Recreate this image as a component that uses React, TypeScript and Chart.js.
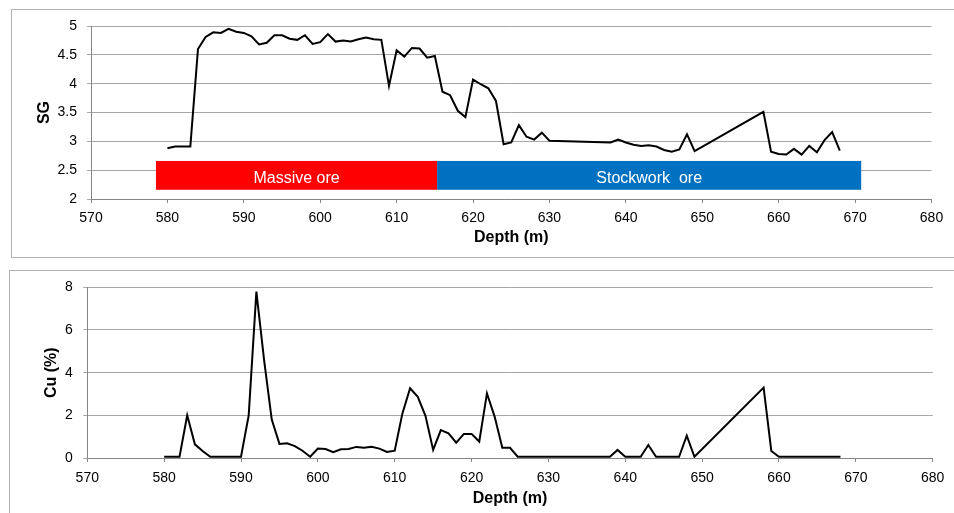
import React, { useEffect, useRef } from "react";
import { Chart, registerables } from "chart.js";

Chart.register(...registerables);

// ---- data ----
const depths = [
  580, 581, 582, 583, 584, 585, 586, 587, 588, 589,
  590, 591, 592, 593, 594, 595, 596, 597, 598, 599,
  600, 601, 602, 603, 604, 605, 606, 607, 608, 609,
  610, 611, 612, 613, 614, 615, 616, 617, 618, 619,
  620, 621, 622, 623, 624, 625, 626, 627, 628, 629,
  630, 638, 639, 640, 641, 642, 643, 644, 645, 646,
  647, 648, 649, 658, 659, 660, 661, 662, 663, 664,
  665, 666, 667, 668,
];

const sgValues = [
  2.88, 2.91, 2.91, 2.91, 4.6, 4.81, 4.89, 4.88, 4.95, 4.9,
  4.88, 4.82, 4.68, 4.71, 4.84, 4.84, 4.78, 4.76, 4.84, 4.69,
  4.72, 4.86, 4.73, 4.75, 4.73, 4.77, 4.8, 4.77, 4.76, 3.96,
  4.58, 4.47, 4.62, 4.61, 4.45, 4.48, 3.86, 3.8, 3.53, 3.42,
  4.07, 3.99, 3.92, 3.7, 2.95, 2.98, 3.28, 3.08, 3.03, 3.15,
  3.01, 2.98, 3.03, 2.98, 2.94, 2.92, 2.93, 2.91, 2.85, 2.82,
  2.86, 3.12, 2.83, 3.51, 2.82, 2.78, 2.77, 2.87, 2.77, 2.92,
  2.81, 3.02, 3.16, 2.84,
];

const cuValues = [
  0.06, 0.06, 0.06, 2.0, 0.64, 0.33, 0.06, 0.06, 0.06, 0.06,
  0.06, 2.0, 7.8, 4.6, 1.8, 0.66, 0.69, 0.56, 0.34, 0.06,
  0.44, 0.42, 0.27, 0.41, 0.42, 0.52, 0.48, 0.53, 0.44, 0.28,
  0.34, 2.09, 3.27, 2.87, 1.98, 0.38, 1.31, 1.16, 0.72, 1.13,
  1.13, 0.77, 3.03, 1.94, 0.48, 0.48, 0.06, 0.06, 0.06, 0.06,
  0.06, 0.06, 0.38, 0.06, 0.06, 0.06, 0.61, 0.06, 0.06, 0.06,
  0.06, 1.05, 0.06, 3.3, 0.33, 0.06, 0.06, 0.06, 0.06, 0.06,
  0.06, 0.06, 0.06, 0.06,
];

const oreZoneLabels = ["Massive ore", "Stockwork  ore"];
const oreZoneFrom = [578.5, 615.3];
const oreZoneTo = [615.3, 670.8];
const oreZoneColors = ["#ff0000", "#0070c0"];
const oreZoneSGRange = [2.16, 2.66];

const FONT = '"Liberation Sans", Arial, sans-serif';

const zonePlugin = {
  id: "oreZones",
  beforeDatasetsDraw(chart: any) {
    const { ctx, scales } = chart;
    const x = scales.x;
    const y = scales.y;
    ctx.save();
    oreZoneLabels.forEach((label, i) => {
      const x0 = x.getPixelForValue(oreZoneFrom[i]);
      const x1 = x.getPixelForValue(oreZoneTo[i]);
      const y0 = y.getPixelForValue(oreZoneSGRange[1]);
      const y1 = y.getPixelForValue(oreZoneSGRange[0]);
      ctx.fillStyle = oreZoneColors[i];
      ctx.fillRect(x0, y0, x1 - x0, y1 - y0);
      ctx.fillStyle = "#ffffff";
      ctx.font = `16px ${FONT}`;
      ctx.textAlign = "center";
      ctx.textBaseline = "alphabetic";
      ctx.fillText(label, (x0 + x1) / 2, (y0 + y1) / 2 + 8);
    });
    ctx.restore();
  },
};

function makeOptions(opts: {
  yMin: number;
  yMax: number;
  yStep: number;
  yTitle: string;
  yWidth: number;
  padding: { left: number; right: number; top: number; bottom: number };
  xHeight: number;
  xTickPad: number;
  yTickPad: number;
}) {
  return {
    responsive: false,
    animation: false as const,
    layout: { padding: opts.padding },
    plugins: { legend: { display: false }, tooltip: { enabled: false } },
    scales: {
      x: {
        type: "linear" as const,
        min: 570,
        max: 680,
        ticks: {
          stepSize: 10,
          padding: opts.xTickPad,
          color: "#000",
          font: { family: FONT, size: 14 },
          maxRotation: 0,
          autoSkip: false,
        },
        grid: {
          drawOnChartArea: false,
          drawTicks: true,
          tickLength: 4,
          color: "#868686",
        },
        border: { color: "#868686", width: 1 },
        title: {
          display: true,
          text: "Depth (m)",
          color: "#000",
          font: { family: FONT, size: 16, weight: "bold" as const },
          padding: 0,
        },
        afterFit: (s: any) => {
          s.height = opts.xHeight;
        },
      },
      y: {
        min: opts.yMin,
        max: opts.yMax,
        ticks: {
          stepSize: opts.yStep,
          padding: opts.yTickPad,
          color: "#000",
          font: { family: FONT, size: 14 },
          callback: (v: any) => `${v}`,
        },
        grid: { color: "#a6a6a6", tickLength: 4, lineWidth: 1 },
        border: { color: "#868686", width: 1 },
        title: {
          display: true,
          text: opts.yTitle,
          color: "#000",
          font: { family: FONT, size: 16, weight: "bold" as const },
          padding: 0,
        },
        afterFit: (s: any) => {
          s.width = opts.yWidth;
        },
      },
    },
  };
}

function lineData(values: number[]) {
  return {
    datasets: [
      {
        data: depths.map((d, i) => ({ x: d, y: values[i] })),
        borderColor: "#000",
        borderWidth: 2,
        pointRadius: 0,
        tension: 0,
        fill: false,
      },
    ],
  };
}

export default function App() {
  const topRef = useRef<HTMLCanvasElement>(null);
  const botRef = useRef<HTMLCanvasElement>(null);

  useEffect(() => {
    const top = new Chart(topRef.current!, {
      type: "line",
      data: lineData(sgValues),
      options: makeOptions({
        yMin: 2,
        yMax: 5,
        yStep: 0.5,
        yTitle: "SG",
        yWidth: 55.9,
        padding: { left: 35.1, right: 22.5, top: 26, bottom: 14.4 },
        xHeight: 48.6,
        xTickPad: 7,
        yTickPad: 10,
      }) as any,
      plugins: [zonePlugin],
    });
    const bot = new Chart(botRef.current!, {
      type: "line",
      data: lineData(cuValues),
      options: makeOptions({
        yMin: 0,
        yMax: 8,
        yStep: 2,
        yTitle: "Cu (%)",
        yWidth: 45.2,
        padding: { left: 42.1, right: 21.3, top: 25.3, bottom: 4.4 },
        xHeight: 50.6,
        xTickPad: 8,
        yTickPad: 10.5,
      }) as any,
    });
    return () => {
      top.destroy();
      bot.destroy();
    };
  }, []);

  return (
    <div
      style={{
        position: "absolute",
        left: 0,
        top: 0,
        width: 954,
        height: 513,
        overflow: "hidden",
        background: "#fff",
      }}
    >
      <div
        style={{
          position: "absolute",
          left: 11,
          top: 9,
          width: 980,
          height: 249,
          boxSizing: "border-box",
          border: "1px solid #b3b3b3",
        }}
      />
      <div
        style={{
          position: "absolute",
          left: 9,
          top: 270,
          width: 980,
          height: 300,
          boxSizing: "border-box",
          border: "1px solid #b3b3b3",
        }}
      />
      <canvas
        ref={topRef}
        width={954}
        height={262}
        style={{ position: "absolute", left: 0, top: 0, width: 954, height: 262 }}
      />
      <canvas
        ref={botRef}
        width={954}
        height={251}
        style={{ position: "absolute", left: 0, top: 262, width: 954, height: 251 }}
      />
    </div>
  );
}
